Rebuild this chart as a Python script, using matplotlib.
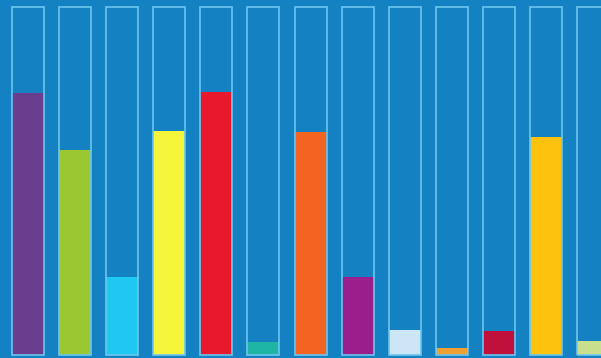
import numpy as np
import matplotlib
matplotlib.use("Agg")
import matplotlib.pyplot as plt

# one value per column, share of the full column (0..1)
values = [0.753, 0.589, 0.224, 0.644, 0.756, 0.037, 0.641, 0.224, 0.072, 0.020, 0.069, 0.626, 0.040]
colors = ["#6a3d8f", "#9bc832", "#1ec8f0", "#f5f53c", "#e8192c", "#1fb5a5", "#f36422",
          "#9a1f8c", "#cde6f5", "#f0a030", "#c0103c", "#fcc20e", "#c8e08c"]

bg = "#1482c2"
outline = "#6cc6ef"

fig = plt.figure(figsize=(6.01, 3.58), dpi=100)
fig.patch.set_facecolor(bg)
ax = fig.add_axes([0, 0, 1, 1])
ax.set_facecolor(bg)

x = np.arange(len(values))
width = 0.68
ax.bar(x, values, width=width, color=colors, linewidth=0)
ax.bar(x, np.ones(len(values)), width=width, fill=False, edgecolor=outline, linewidth=1.2)

ax.set_xlim(-0.594, 12.166)
ax.set_ylim(-0.0086, 1.020)
ax.axis("off")

fig.savefig("out.png", dpi=100, facecolor=bg)
